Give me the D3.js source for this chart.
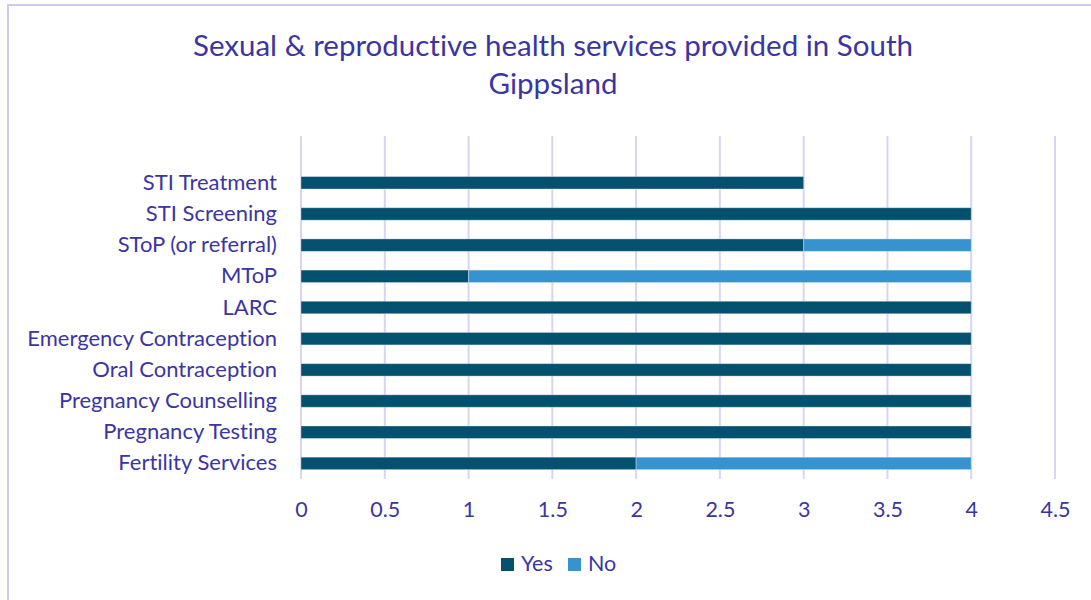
<!DOCTYPE html>
<html>
<head>
<meta charset="utf-8">
<script src="https://cdn.jsdelivr.net/npm/d3@7"></script>
<style>
  html, body { margin: 0; padding: 0; background: #fff; }
  svg text { font-family: Lato, "Open Sans", sans-serif; font-variant-ligatures: none; }
</style>
</head>
<body>
<svg id="chart" width="1091" height="600"></svg>
<script>
// Services, listed bottom to top as they appear on the axis
const categories = [
  "Fertility Services",
  "Pregnancy Testing",
  "Pregnancy Counselling",
  "Oral Contraception",
  "Emergency Contraception",
  "LARC",
  "MToP",
  "SToP (or referral)",
  "STI Screening",
  "STI Treatment"
];
const yesValues = [2, 4, 4, 4, 4, 4, 1, 3, 4, 3];
const noValues  = [2, 0, 0, 0, 0, 0, 3, 1, 0, 0];
const seriesNames = ["Yes", "No"];
const seriesColors = ["#03506f", "#3793d0"];
const xTicks = [0, 0.5, 1, 1.5, 2, 2.5, 3, 3.5, 4, 4.5];

const textColor = "#3b35a3";
const gridColor = "#d8d4f4";

const svg = d3.select("#chart");

// Outer chart frame
svg.append("rect")
  .attr("x", 8).attr("y", 5)
  .attr("width", 1100).attr("height", 610)
  .attr("fill", "#fff")
  .attr("stroke", "#cfc9ec").attr("stroke-width", 2);

const plot = { left: 301, right: 1055, top: 136, bottom: 479 };

const x = d3.scaleLinear().domain([0, 4.5]).range([plot.left, plot.right]);

// top slot of the band scale stays empty
const y = d3.scaleBand()
  .domain([" "].concat(categories.slice().reverse()))
  .range([plot.top, plot.bottom])
  .paddingInner(0.6)
  .paddingOuter(0.3);

// Title
const title = svg.append("text")
  .attr("text-anchor", "middle")
  .attr("fill", textColor)
  .attr("font-size", 29.5);
title.append("tspan").attr("x", 553).attr("y", 56)
  .text("Sexual & reproductive health services provided in South");
title.append("tspan").attr("x", 553).attr("y", 94)
  .text("Gippsland");

// Vertical gridlines
svg.append("g")
  .selectAll("line")
  .data(xTicks)
  .join("line")
  .attr("x1", d => x(d)).attr("x2", d => x(d))
  .attr("y1", plot.top).attr("y2", plot.bottom)
  .attr("stroke", gridColor).attr("stroke-width", 2);

// Stacked bars
const rows = categories.map((c, i) => ({ cat: c, Yes: yesValues[i], No: noValues[i] }));
const stacked = d3.stack().keys(seriesNames)(rows);

svg.append("g")
  .selectAll("g")
  .data(stacked)
  .join("g")
  .attr("fill", (d, i) => seriesColors[i])
  .selectAll("rect")
  .data(d => d.filter(p => p[1] - p[0] > 0))
  .join("rect")
  .attr("x", d => x(d[0]))
  .attr("width", d => x(d[1]) - x(d[0]))
  .attr("y", d => y(d.data.cat))
  .attr("height", y.bandwidth())
  .attr("stroke", "rgba(255,255,255,0.35)")
  .attr("stroke-width", 1);

// Category axis labels
const yAxis = d3.axisLeft(y).tickSize(0).tickPadding(24);
const yg = svg.append("g")
  .attr("transform", `translate(${plot.left},0)`)
  .call(yAxis);
yg.select(".domain").remove();
yg.selectAll("text")
  .attr("fill", textColor)
  .attr("font-size", 22)
  .attr("font-family", "Lato, sans-serif");

// Value axis labels
const xAxis = d3.axisBottom(x).tickValues(xTicks).tickSize(0).tickPadding(23)
  .tickFormat(d3.format("~g"));
const xg = svg.append("g")
  .attr("transform", `translate(0,${plot.bottom})`)
  .call(xAxis);
xg.select(".domain").remove();
xg.selectAll("text")
  .attr("fill", textColor)
  .attr("font-size", 21.5)
  .attr("font-family", "Lato, sans-serif");

// Legend
const legendX = [501, 568];
const legend = svg.append("g")
  .selectAll("g")
  .data(seriesNames)
  .join("g")
  .attr("transform", (d, i) => `translate(${legendX[i]},558)`);
legend.append("rect")
  .attr("width", 13).attr("height", 13)
  .attr("fill", (d, i) => seriesColors[i]);
legend.append("text")
  .attr("x", 20).attr("y", 13)
  .attr("fill", textColor)
  .attr("font-size", 21.5)
  .text(d => d);
</script>
</body>
</html>
